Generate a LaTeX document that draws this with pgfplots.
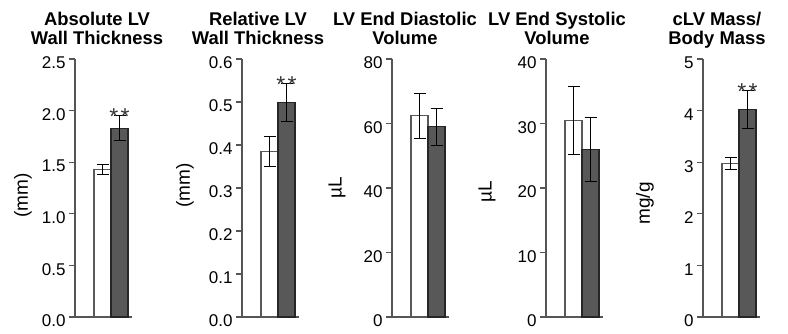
\documentclass[border=0pt]{standalone}
\usepackage{fontspec}
\setmainfont{Liberation Sans}
\usepackage{pgfplots}
\pgfplotsset{compat=1.18}
\definecolor{barDark}{RGB}{88,88,88}
\definecolor{axGray}{RGB}{85,85,85}
\pgfplotsset{
  panel/.style={
    scale only axis, width=57pt, height=258pt,
    xmin=0, xmax=57, ymin=0,
    axis x line*=bottom, axis y line*=left,
    axis line style={-, axGray, line width=1.1pt},
    xtick=\empty,
    ytick style={axGray, line width=1.1pt},
    tick align=outside, major tick length=6pt,
    tick label style={font=\fontsize{17}{17}\selectfont, yshift=-4pt},
    /pgf/number format/assume math mode=true,
    ylabel style={font=\fontsize{19}{19}\selectfont, anchor=center},
    clip=false,
  },
  whitebar/.style={ybar, bar width=17, bar shift=0pt, fill=white, draw=black!65, line width=1.1pt,
    error bars/.cd, y dir=both, y explicit,
    error bar style={black, line width=1pt},
    error mark options={rotate=90, mark size=6pt, black, line width=1pt}},
  darkbar/.style={ybar, bar width=17, bar shift=0pt, fill=barDark, draw=black!85, line width=1.1pt,
    error bars/.cd, y dir=both, y explicit,
    error bar style={black, line width=1pt},
    error mark options={rotate=90, mark size=6pt, black, line width=1pt}},
}
\tikzset{
  stars/.style={font=\fontsize{23}{23}\selectfont, anchor=base, yshift=-9pt, text=black!80, inner sep=0pt},
  ttl/.style={font=\bfseries\fontsize{18.4}{18.4}\selectfont, anchor=base},
}
\begin{document}
\begin{tikzpicture}[x=1pt,y=1pt]
\useasboundingbox (0,0) rectangle (788,333);
% titles
\node[ttl] at (97,308) {Absolute LV};
\node[ttl] at (97,288) {Wall Thickness};
\node[ttl] at (258,308) {Relative LV};
\node[ttl] at (258,288) {Wall Thickness};
\node[ttl] at (405,308) {LV End Diastolic};
\node[ttl] at (405,288) {Volume};
\node[ttl] at (557,308) {LV End Systolic};
\node[ttl] at (557,288) {Volume};
\node[ttl] at (717,308) {cLV Mass/};
\node[ttl] at (717,288) {Body Mass};

% panel 1
\begin{axis}[panel, at={(75pt,16pt)}, anchor=south west,
  ymax=2.5, ytick={0,0.5,1,1.5,2,2.5},
  yticklabel style={/pgf/number format/.cd, fixed, fixed zerofill, precision=1},
  ylabel={(mm)}, ylabel style={at={(axis description cs:-0.912,0.47)}}]
\addplot[whitebar] coordinates {(27.5,1.43) +- (0,0.045)};
\addplot[darkbar] coordinates {(44.5,1.83) +- (0,0.12)};
\node[stars] at (axis cs:44.5,1.95) {*\hspace{2.5pt}*};
\end{axis}

% panel 2
\begin{axis}[panel, at={(242pt,16pt)}, anchor=south west,
  ymax=0.6, ytick={0,0.1,0.2,0.3,0.4,0.5,0.6},
  yticklabel style={/pgf/number format/.cd, fixed, fixed zerofill, precision=1},
  ylabel={(mm)}, ylabel style={at={(axis description cs:-1.0,0.51)}}]
\addplot[whitebar] coordinates {(27.5,0.384) +- (0,0.035)};
\addplot[darkbar] coordinates {(44.5,0.499) +- (0,0.044)};
\node[stars] at (axis cs:44.5,0.543) {*\hspace{2.5pt}*};
\end{axis}

% panel 3
\begin{axis}[panel, at={(392pt,16pt)}, anchor=south west,
  ymax=80, ytick={0,20,40,60,80},
  ylabel={µL}, ylabel style={at={(axis description cs:-0.965,0.50)}}]
\addplot[whitebar] coordinates {(27.5,62.4) +- (0,6.9)};
\addplot[darkbar] coordinates {(44.5,59.0) +- (0,5.7)};
\end{axis}

% panel 4
\begin{axis}[panel, at={(546pt,16pt)}, anchor=south west,
  ymax=40, ytick={0,10,20,30,40},
  ylabel={µL}, ylabel style={at={(axis description cs:-1.035,0.486)}}]
\addplot[whitebar] coordinates {(27.5,30.5) +- (0,5.3)};
\addplot[darkbar] coordinates {(44.5,26.0) +- (0,5.0)};
\end{axis}

% panel 5
\begin{axis}[panel, at={(703pt,16pt)}, anchor=south west,
  ymax=5, ytick={0,1,2,3,4,5},
  ylabel={mg/g}, ylabel style={at={(axis description cs:-1.018,0.44)}}]
\addplot[whitebar] coordinates {(27.5,2.98) +- (0,0.12)};
\addplot[darkbar] coordinates {(44.5,4.02) +- (0,0.36)};
\node[stars] at (axis cs:44.5,4.38) {*\hspace{2.5pt}*};
\end{axis}
\end{tikzpicture}
\end{document}
